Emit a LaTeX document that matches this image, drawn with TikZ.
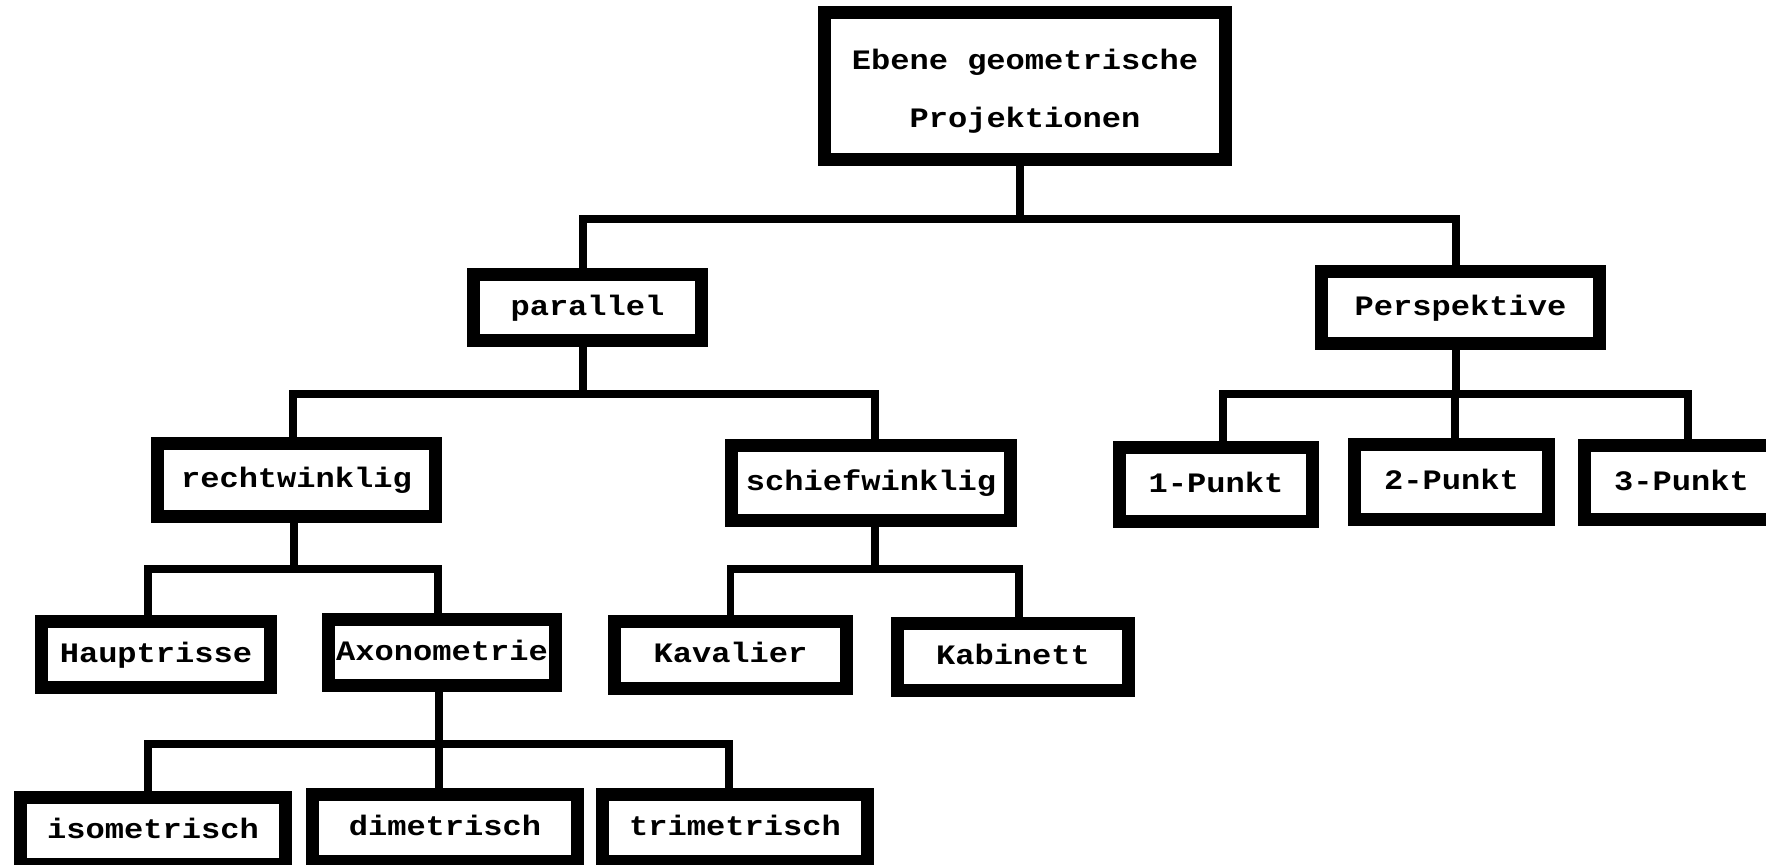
\documentclass[tikz,border=0pt]{standalone}
\usepackage{fontspec}
\newfontfamily\boxfont{Liberation Mono}[FakeStretch=1.14]
\begin{document}
\begin{tikzpicture}[x=0.01cm, y=-0.01cm,
    box/.style={draw, line width=3.6pt, inner sep=0pt, font=\boxfont\bfseries\fontsize{8}{9.6}\selectfont},
    leaf/.style={box, text height=6pt, text depth=1.7pt},
    link/.style={line width=2.1pt}]
    % Page frame (pixel grid of the sketch)
    \useasboundingbox (0,0) rectangle (1766,865);

    % Root
    \node[box, minimum width=4.01cm, minimum height=1.47cm, align=center] (root) at (1025,86)
        {\rule{0pt}{8.6pt}Ebene geometrische\\[6.8pt]Projektionen};

    % Level 1
    \node[leaf, minimum width=2.28cm, minimum height=0.66cm] (parallel) at (587.5,307.5) {parallel};
    \node[leaf, minimum width=2.78cm, minimum height=0.72cm] (persp) at (1460.5,307.5) {Perspektive};

    % Level 2
    \node[leaf, minimum width=2.78cm, minimum height=0.73cm] (recht) at (296.5,480) {rechtwinklig};
    \node[leaf, minimum width=2.79cm, minimum height=0.75cm] (schief) at (871,483) {schiefwinklig};
    \node[leaf, minimum width=1.93cm, minimum height=0.74cm] (punkt1) at (1216,484.5) {1-Punkt};
    \node[leaf, minimum width=1.94cm, minimum height=0.75cm] (punkt2) at (1451.5,482) {2-Punkt};
    \node[leaf, minimum width=1.94cm, minimum height=0.74cm] (punkt3) at (1681.5,482.5) {3-Punkt};

    % Level 3
    \node[leaf, minimum width=2.29cm, minimum height=0.66cm] (haupt) at (156,654.5) {Hauptrisse};
    \node[leaf, minimum width=2.27cm, minimum height=0.66cm] (axono) at (442,652.5) {Axonometrie};
    \node[leaf, minimum width=2.32cm, minimum height=0.67cm] (kaval) at (730.5,655) {Kavalier};
    \node[leaf, minimum width=2.31cm, minimum height=0.67cm] (kabin) at (1013,657) {Kabinett};

    % Level 4 (cut off at the bottom edge)
    \node[leaf, minimum width=2.65cm, minimum height=0.67cm] (iso) at (153,831) {isometrisch};
    \node[leaf, minimum width=2.65cm, minimum height=0.67cm] (di) at (445,828) {dimetrisch};
    \node[leaf, minimum width=2.65cm, minimum height=0.67cm] (tri) at (735,828) {trimetrisch};

    % Connectors: stem down, bar across, drop to child
    \draw[link] ([xshift=-.05cm]root.south) -- ++(0,53) -| ([xshift=-.045cm]parallel.north);
    \draw[link] ([xshift=-.05cm]root.south) -- ++(0,53) -| ([xshift=-.045cm]persp.north);

    \draw[link] ([xshift=-.045cm]parallel.south) -- ++(0,47) -| ([xshift=-.035cm]recht.north);
    \draw[link] ([xshift=-.045cm]parallel.south) -- ++(0,47) -| ([xshift=.04cm]schief.north);

    \draw[link] ([xshift=-.045cm]persp.south) -- ++(0,44) -| ([xshift=.07cm]punkt1.north);
    \draw[link] ([xshift=-.045cm]persp.south) -- ++(0,44) -| ([xshift=.035cm]punkt2.north);
    \draw[link] ([xshift=-.045cm]persp.south) -- ++(0,44) -| ([xshift=.065cm]punkt3.north);

    \draw[link] ([xshift=-.025cm]recht.south) -- ++(0,46) -| ([xshift=-.08cm]haupt.north);
    \draw[link] ([xshift=-.025cm]recht.south) -- ++(0,46) -| ([xshift=-.04cm]axono.north);

    \draw[link] ([xshift=.04cm]schief.south) -- ++(0,42) -| (kaval.north);
    \draw[link] ([xshift=.04cm]schief.south) -- ++(0,42) -| ([xshift=.06cm]kabin.north);

    \draw[link] ([xshift=-.03cm]axono.south) -- ++(0,52) -| ([xshift=-.05cm]iso.north);
    \draw[link] ([xshift=-.03cm]axono.south) -- ++(0,52) -| ([xshift=-.06cm]di.north);
    \draw[link] ([xshift=-.03cm]axono.south) -- ++(0,52) -| ([xshift=-.06cm]tri.north);
\end{tikzpicture}
\end{document}
